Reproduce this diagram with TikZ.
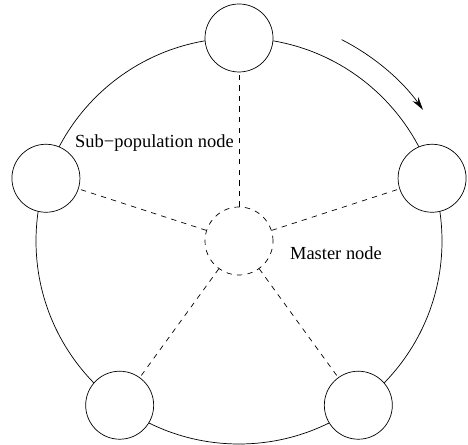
\documentclass[tikz,border=0pt]{standalone}
\usepackage{fontspec}
\setmainfont{Liberation Serif}
\usetikzlibrary{arrows.meta}

\begin{document}
\begin{tikzpicture}[x=1cm,y=1cm,
  subpop/.style={circle,draw,fill=white,minimum size=1.36cm,inner sep=0pt},
  master/.style={circle,draw,dashed,fill=white,minimum size=1.36cm,inner sep=0pt},
  link/.style={dashed},
  lbl/.style={font=\fontsize{10.5}{12.5}\selectfont}]
\useasboundingbox (0,0) rectangle (9.36,8.9);
\coordinate (c) at (4.78,4.08);
% ring
\draw (c) circle (4.06);
\draw[-{Stealth[length=2.6mm,width=1.4mm]}] ([shift={(63:4.52)}]c) arc (63:35.5:4.52);
% nodes
\node[master]	(m)	at (c)				{};
\node[subpop]	(s_1)	at ([shift={(90:4.06)}]c)	{};
\node[subpop]	(s_2)	at ([shift={(162:4.06)}]c)	{};
\node[subpop]	(s_3)	at ([shift={(234:4.06)}]c)	{};
\node[subpop]	(s_4)	at ([shift={(306:4.06)}]c)	{};
\node[subpop]	(s_5)	at ([shift={(18:4.06)}]c)	{};
\foreach \i in {1,...,5}
  \draw[link] (m) -- (s_\i);
% labels
\node[lbl]	(l_sub)	at (3.09,6.04)	{Sub−population node};
\node[lbl]	(l_mas)	at (6.72,3.84)	{Master node};
\end{tikzpicture}
\end{document}
